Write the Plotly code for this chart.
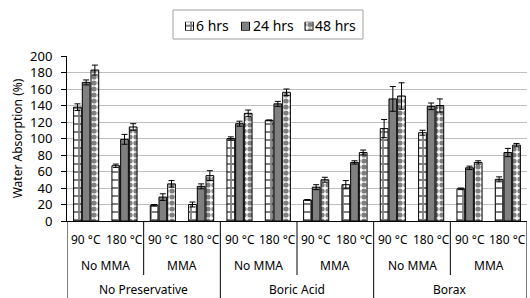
import plotly.graph_objects as go

temps = ["90 °C", "180 °C"] * 6
mma = ["No MMA", "MMA"] * 3
preservatives = ["No Preservative", "Boric Acid", "Borax"]
series = ["6 hrs", "24 hrs", "48 hrs"]

v6 = [138, 67, 19, 20, 100, 122, 25.5, 44, 112, 107, 39, 50.5]
v24 = [168, 99, 29, 42, 118, 142, 41, 71, 148, 139, 64.5, 83]
v48 = [183, 114, 45, 55, 130.5, 156, 50, 83, 151.5, 140, 71, 92]
e6 = [4, 2, 1, 3, 2, 0.5, 0.5, 5, 11, 3, 1, 3]
e24 = [3, 6, 4, 3, 3, 3, 3, 2, 15, 4, 2, 5]
e48 = [6, 4, 4, 6, 4, 4, 3, 3, 16, 8, 2, 2]

yticks = list(range(0, 201, 20))

FONT = "Noto Sans"
W, H = 530, 298
L, R, B = 67, 3, 77          # margins (px); top margin 0, main plot top at 56 px
PH = H - B                   # paper height in px
PW = W - L - R               # paper width in px
PLOT_TOP = 56


def py(p):
    """pixel y (from top) -> paper y"""
    return (PH - p) / PH


def px(p):
    """pixel x (from left) -> paper x"""
    return (p - L) / PW


x = list(range(len(temps)))

styles = [
    dict(color="white", pattern=dict(shape="+", fgcolor="black", size=8, solidity=0.4, fillmode="overlay")),
    dict(color="#808080", pattern=dict(shape="")),
    dict(color="white", pattern=dict(shape=".", fgcolor="black", size=6, solidity=0.6, fillmode="overlay")),
]

fig = go.Figure()
for name, vals, errs, st in zip(series, [v6, v24, v48], [e6, e24, e48], styles):
    fig.add_trace(go.Bar(
        x=x, y=vals, name=name, showlegend=False,
        marker=dict(color=st["color"], pattern=st["pattern"], line=dict(color="black", width=1)),
        error_y=dict(type="data", array=errs, visible=True, color="black", thickness=1, width=3),
    ))

# --- custom legend (icons as tiny bars on a hidden axis pair) ---
leg_icon_x = [189.5, 245.5, 309]     # icon centres, px
leg_text_x = [194, 250.5, 313]       # text left edges, px
for name, st, ix in zip(series, styles, leg_icon_x):
    fig.add_trace(go.Bar(
        x=[ix], y=[1], width=[8], xaxis="x2", yaxis="y2", showlegend=False, hoverinfo="skip",
        marker=dict(color=st["color"], pattern=st["pattern"], line=dict(color="black", width=1)),
    ))

annotations = []
for name, tx in zip(series, leg_text_x):
    annotations.append(dict(x=px(tx), y=py(25.5), xref="paper", yref="paper", text=name,
                            showarrow=False, xanchor="left", yanchor="middle",
                            font=dict(size=14, color="black", family=FONT)))
for i, t in enumerate(temps):
    annotations.append(dict(x=i, y=py(240), xref="x", yref="paper", text=t, showarrow=False,
                            xanchor="center", yanchor="middle",
                            font=dict(size=12, color="black", family=FONT)))
for j, m in enumerate(mma):
    annotations.append(dict(x=2 * j + 0.5, y=py(265), xref="x", yref="paper", text=m, showarrow=False,
                            xanchor="center", yanchor="middle",
                            font=dict(size=12, color="black", family=FONT)))
for k, p in enumerate(preservatives):
    annotations.append(dict(x=4 * k + 1.5, y=py(289), xref="x", yref="paper", text=p, showarrow=False,
                            xanchor="center", yanchor="middle",
                            font=dict(size=12, color="black", family=FONT)))

shapes = []
for j in range(7):
    xb = 2 * j - 0.5
    y1 = py(H + 2) if j % 2 == 0 else py(275)
    shapes.append(dict(type="line", xref="x", yref="paper", x0=xb, x1=xb, y0=0, y1=y1,
                       line=dict(color="black", width=1)))
shapes.append(dict(type="rect", xref="paper", yref="paper",
                   x0=px(173), x1=px(363), y0=py(39), y1=py(10),
                   line=dict(color="#a0a0a0", width=1), fillcolor="rgba(0,0,0,0)"))

fig.update_layout(
    width=W, height=H,
    margin=dict(l=L, r=R, t=0, b=B, autoexpand=False),
    paper_bgcolor="white", plot_bgcolor="white",
    font=dict(family=FONT, size=12, color="black"),
    barmode="group", bargap=0.32, bargroupgap=0.11,
    showlegend=False,
    annotations=annotations,
    shapes=shapes,
    xaxis=dict(range=[-0.5, 11.5], showticklabels=False, showgrid=False, zeroline=False,
               showline=True, linecolor="black", linewidth=1, ticks="", automargin=False),
    yaxis=dict(domain=[0, py(PLOT_TOP)], range=[0, 200], tickvals=yticks, showgrid=True,
               gridcolor="#bfbfbf", gridwidth=1, zeroline=False, showline=True,
               linecolor="black", linewidth=1, ticks="outside", ticklen=5, tickcolor="black",
               automargin=False, tickfont=dict(size=13, family=FONT), ticklabelstandoff=6,
               title=dict(text="Water Absorption (%)", font=dict(size=12, family=FONT), standoff=4)),
    xaxis2=dict(domain=[0, 1], range=[L, W - R], anchor="y2", visible=False, fixedrange=True),
    yaxis2=dict(domain=[py(30.7), py(21.7)], range=[0, 1], anchor="x2", visible=False, fixedrange=True),
)

fig.write_html("out.html", config={"displayModeBar": False},
               post_script="document.body.style.margin='0';document.body.style.padding='0';")
